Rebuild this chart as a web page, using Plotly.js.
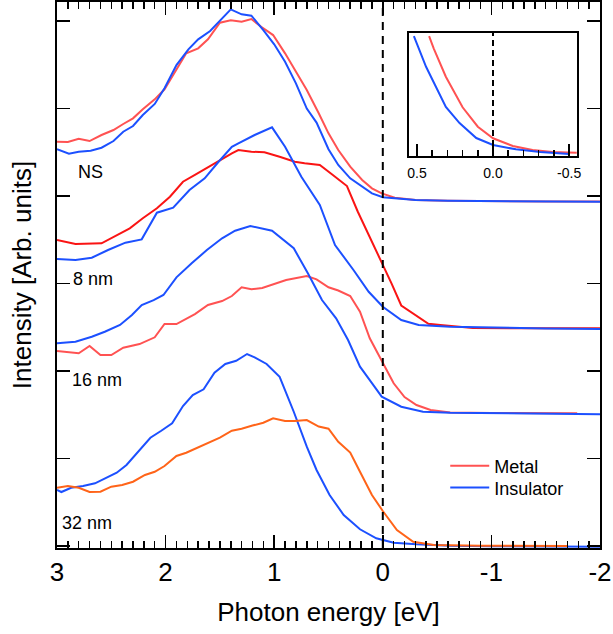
<!DOCTYPE html>
<html><head><meta charset="utf-8">
<script src="https://cdn.plot.ly/plotly-3.0.1.min.js"></script>
<style>html,body{margin:0;padding:0;background:#fff}</style>
</head><body><div id="chart" style="width:613px;height:634px"></div>
<script>
// ---- Data (photon energy in eV, intensity in arb. units, offset per sample) ----
const nsMetalE = [3.0, 2.9, 2.8, 2.7, 2.59, 2.48, 2.39, 2.3, 2.21, 2.1, 2.01, 1.9, 1.81, 1.7, 1.61, 1.5, 1.4, 1.3, 1.21, 1.12, 1.01, 0.9, 0.81, 0.7, 0.59, 0.5, 0.41, 0.3, 0.19, 0.1, 0.01, -0.11, -0.24, -0.3, -0.6, -1.0, -1.5, -2.0];
const nsMetalI = [4.620, 4.617, 4.655, 4.628, 4.697, 4.754, 4.823, 4.888, 4.991, 5.105, 5.220, 5.448, 5.631, 5.688, 5.791, 5.981, 6.010, 5.992, 6.023, 5.935, 5.840, 5.631, 5.440, 5.211, 4.945, 4.716, 4.525, 4.335, 4.183, 4.088, 4.030, 3.980, 3.962, 3.954, 3.945, 3.940, 3.937, 3.937];

const nsInsE = [3.0, 2.89, 2.8, 2.69, 2.59, 2.48, 2.39, 2.3, 2.21, 2.1, 2.01, 1.9, 1.79, 1.7, 1.59, 1.5, 1.4, 1.3, 1.21, 1.1, 1.0, 0.9, 0.8, 0.7, 0.61, 0.5, 0.41, 0.3, 0.19, 0.1, 0.0, -0.15, -0.3, -0.6, -1.0, -1.5, -2.0];
const nsInsI = [4.534, 4.483, 4.506, 4.517, 4.552, 4.628, 4.735, 4.800, 4.926, 5.052, 5.231, 5.497, 5.677, 5.791, 5.886, 6.000, 6.134, 6.077, 6.061, 5.897, 5.734, 5.535, 5.288, 4.999, 4.839, 4.534, 4.354, 4.202, 4.106, 4.030, 3.985, 3.969, 3.954, 3.945, 3.940, 3.937, 3.935];

const m8E = [3.0, 2.83, 2.59, 2.47, 2.33, 2.21, 2.08, 1.96, 1.84, 1.73, 1.62, 1.52, 1.39, 1.33, 1.21, 1.09, 0.95, 0.81, 0.72, 0.58, 0.46, 0.33, 0.23, 0.12, 0.01, -0.08, -0.17, -0.29, -0.42, -0.53, -0.83, -1.2, -1.6, -2.0];
const m8I = [3.496, 3.451, 3.459, 3.534, 3.630, 3.745, 3.859, 3.992, 4.163, 4.240, 4.316, 4.392, 4.488, 4.525, 4.506, 4.499, 4.449, 4.392, 4.373, 4.354, 4.240, 4.114, 3.820, 3.534, 3.237, 3.001, 2.748, 2.650, 2.538, 2.525, 2.490, 2.488, 2.487, 2.487];

const i8E = [3.0, 2.83, 2.68, 2.53, 2.37, 2.22, 2.08, 1.93, 1.78, 1.64, 1.52, 1.39, 1.33, 1.18, 1.02, 0.9, 0.75, 0.58, 0.44, 0.27, 0.13, 0.0, -0.17, -0.33, -0.62, -1.0, -1.5, -2.0];
const i8I = [3.279, 3.268, 3.294, 3.382, 3.466, 3.504, 3.809, 3.866, 4.068, 4.202, 4.380, 4.563, 4.602, 4.697, 4.785, 4.563, 4.220, 3.897, 3.439, 3.154, 2.905, 2.734, 2.582, 2.525, 2.505, 2.495, 2.485, 2.479];

const m16E = [3.0, 2.8, 2.7, 2.6, 2.5, 2.39, 2.24, 2.1, 2.01, 1.9, 1.73, 1.61, 1.48, 1.39, 1.3, 1.21, 1.11, 0.99, 0.89, 0.7, 0.61, 0.5, 0.41, 0.3, 0.21, 0.12, 0.01, -0.1, -0.2, -0.31, -0.44, -0.62, -1.0, -1.4, -1.79];
const m16I = [2.227, 2.201, 2.285, 2.182, 2.182, 2.265, 2.307, 2.384, 2.536, 2.536, 2.650, 2.753, 2.799, 2.856, 2.956, 2.933, 2.948, 3.001, 3.039, 3.085, 3.047, 2.956, 2.919, 2.856, 2.677, 2.373, 2.119, 1.858, 1.701, 1.610, 1.553, 1.524, 1.518, 1.516, 1.515];

const i16E = [3.0, 2.83, 2.68, 2.56, 2.42, 2.31, 2.22, 2.11, 2.02, 1.9, 1.76, 1.62, 1.48, 1.36, 1.22, 1.02, 0.82, 0.69, 0.56, 0.43, 0.32, 0.21, 0.1, 0.01, -0.17, -0.37, -0.62, -1.0, -1.5, -2.0];
const i16I = [2.315, 2.334, 2.391, 2.448, 2.525, 2.639, 2.753, 2.810, 2.868, 3.070, 3.230, 3.382, 3.516, 3.603, 3.657, 3.603, 3.402, 3.116, 2.810, 2.601, 2.353, 2.048, 1.861, 1.705, 1.590, 1.533, 1.522, 1.515, 1.508, 1.504];

const m32E = [3.0, 2.9, 2.8, 2.7, 2.6, 2.5, 2.4, 2.3, 2.19, 2.1, 2.01, 1.9, 1.81, 1.7, 1.61, 1.5, 1.39, 1.3, 1.2, 1.1, 1.01, 0.9, 0.81, 0.7, 0.59, 0.5, 0.41, 0.3, 0.21, 0.1, 0.0, -0.13, -0.28, -0.47, -0.9, -1.3, -1.7];
const m32I = [0.664, 0.684, 0.664, 0.615, 0.619, 0.676, 0.695, 0.733, 0.810, 0.847, 0.912, 1.027, 1.064, 1.126, 1.179, 1.236, 1.316, 1.339, 1.375, 1.407, 1.458, 1.427, 1.427, 1.438, 1.364, 1.339, 1.190, 1.067, 0.847, 0.581, 0.398, 0.180, 0.047, 0.009, 0.000, -0.002, -0.002];

const i32E = [3.0, 2.96, 2.87, 2.76, 2.65, 2.56, 2.45, 2.36, 2.25, 2.14, 2.04, 1.94, 1.84, 1.75, 1.65, 1.55, 1.45, 1.35, 1.25, 1.18, 1.07, 0.95, 0.82, 0.7, 0.61, 0.49, 0.36, 0.21, 0.06, -0.1, -0.31, -0.62, -1.0, -1.5, -2.0];
const i32I = [0.638, 0.615, 0.664, 0.684, 0.715, 0.772, 0.836, 0.924, 1.076, 1.236, 1.316, 1.401, 1.598, 1.724, 1.789, 1.979, 2.079, 2.116, 2.193, 2.155, 2.079, 1.933, 1.533, 1.133, 0.867, 0.581, 0.352, 0.189, 0.086, 0.035, 0.017, 0.001, -0.004, -0.008, -0.010];

// Inset (NS, close to the Fermi level)
const insetMetalE = [0.42, 0.39, 0.31, 0.20, 0.10, 0.0, -0.13, -0.26, -0.39, -0.55];
const insetMetalI = [0.976, 0.876, 0.645, 0.396, 0.238, 0.144, 0.081, 0.049, 0.033, 0.027];
const insetInsE = [0.52, 0.44, 0.31, 0.22, 0.11, 0.0, -0.15, -0.31, -0.5];
const insetInsI = [0.976, 0.726, 0.40, 0.268, 0.146, 0.089, 0.054, 0.033, 0.016];

const xTickVals = [3, 2, 1, 0, -1, -2];
const xTickText = ['3', '2', '1', '0', '-1', '-2'];
const insetTickVals = [0.5, 0, -0.5];
const insetTickText = ['0.5', '0.0', '-0.5'];
const sampleLabels = ['NS', '8 nm', '16 nm', '32 nm'];
const legendNames = ['Metal', 'Insulator'];
const fermiLevel = 0;

// ---- Styles ----
const FONT = 'Liberation Sans, Arial, sans-serif';
const RED_LIGHT = 'rgb(255,82,82)';
const RED = 'rgb(250,20,20)';
const ORANGE = 'rgb(255,100,25)';
const BLUE = 'rgb(28,80,255)';

function tr(x, y, color, opts) {
  return Object.assign({
    x: x, y: y, type: 'scatter', mode: 'lines',
    line: {color: color, width: 2}, showlegend: false, hoverinfo: 'skip'
  }, opts || {});
}

const data = [
  tr(nsMetalE, nsMetalI, RED_LIGHT, {name: legendNames[0], showlegend: true, legend: 'legend'}),
  tr(nsInsE, nsInsI, BLUE, {name: legendNames[1], showlegend: true, legend: 'legend2'}),
  tr(m8E, m8I, RED),
  tr(i8E, i8I, BLUE),
  tr(m16E, m16I, RED_LIGHT),
  tr(i16E, i16I, BLUE),
  tr(i32E, i32I, BLUE),
  tr(m32E, m32I, ORANGE),
  tr(insetMetalE, insetMetalI, RED_LIGHT, {xaxis: 'x2', yaxis: 'y2'}),
  tr(insetInsE, insetInsI, BLUE, {xaxis: 'x2', yaxis: 'y2'})
];

const labelPos = [[2.687, 4.274], [2.668, 3.050], [2.632, 1.896], [2.724, 0.261]];

const legendStyle = {xanchor: 'left', yanchor: 'top', font: {size: 18, family: FONT},
                     bgcolor: 'rgba(0,0,0,0)', itemwidth: 39};

const layout = {
  width: 613, height: 634,
  margin: {l: 57, r: 13, t: 2, b: 86},
  paper_bgcolor: 'white', plot_bgcolor: 'white',
  font: {family: FONT, color: 'black'},
  showlegend: true,
  legend: Object.assign({x: 0.715, y: 0.184}, legendStyle),
  legend2: Object.assign({x: 0.715, y: 0.144}, legendStyle),
  xaxis: {
    range: [3, -2], autorange: false,
    tickmode: 'array', tickvals: xTickVals, ticktext: xTickText,
    ticks: 'inside', ticklen: 13, tickwidth: 1.5, tickcolor: 'black',
    minor: {tickmode: 'linear', tick0: 0, dtick: 0.1, ticks: 'inside', ticklen: 7, tickwidth: 1.5, tickcolor: 'black', showgrid: false},
    showline: true, linecolor: 'black', linewidth: 2, mirror: 'allticks',
    showgrid: false, zeroline: false,
    tickfont: {size: 26, family: FONT},
    title: {text: 'Photon energy [eV]', font: {size: 26, family: FONT}, standoff: 17}
  },
  yaxis: {
    range: [-0.025, 6.218], autorange: false,
    tickmode: 'linear', tick0: 0, dtick: 1,
    ticks: 'inside', ticklen: 13, tickwidth: 1.5, tickcolor: 'black',
    showticklabels: false,
    showline: true, linecolor: 'black', linewidth: 2, mirror: 'allticks',
    showgrid: false, zeroline: false,
    title: {text: 'Intensity [Arb. units]', font: {size: 26, family: FONT}, standoff: 16}
  },
  xaxis2: {
    domain: [0.648, 0.958], anchor: 'y2',
    range: [0.553, -0.553], autorange: false,
    tickmode: 'array', tickvals: insetTickVals, ticktext: insetTickText,
    ticks: 'inside', ticklen: 12, tickwidth: 1.5, tickcolor: 'black',
    minor: {tickmode: 'linear', tick0: 0, dtick: 0.1, ticks: 'inside', ticklen: 6, tickwidth: 1.5, tickcolor: 'black', showgrid: false},
    showline: true, linecolor: 'black', linewidth: 2, mirror: true,
    showgrid: false, zeroline: false,
    tickfont: {size: 14, family: FONT}, ticklabelstandoff: 3
  },
  yaxis2: {
    domain: [0.718, 0.943], anchor: 'x2',
    range: [0, 1], autorange: false,
    showticklabels: false, ticks: '',
    showline: true, linecolor: 'black', linewidth: 2, mirror: true,
    showgrid: false, zeroline: false
  },
  shapes: [
    {type: 'line', xref: 'x', yref: 'paper', x0: fermiLevel, x1: fermiLevel, y0: 0, y1: 1,
     line: {color: 'black', width: 2, dash: '8px,6px'}},
    {type: 'line', xref: 'x2', yref: 'y2 domain', x0: fermiLevel, x1: fermiLevel, y0: 0, y1: 1,
     line: {color: 'black', width: 2, dash: '6px,4px'}}
  ],
  annotations: sampleLabels.map((t, i) => ({
    text: t, xref: 'x', yref: 'y', x: labelPos[i][0], y: labelPos[i][1],
    showarrow: false, xanchor: 'center', yanchor: 'middle',
    font: {size: 18, family: FONT, color: 'black'}
  }))
};

Plotly.newPlot('chart', data, layout, {staticPlot: true, displayModeBar: false});
</script>
</body></html>
